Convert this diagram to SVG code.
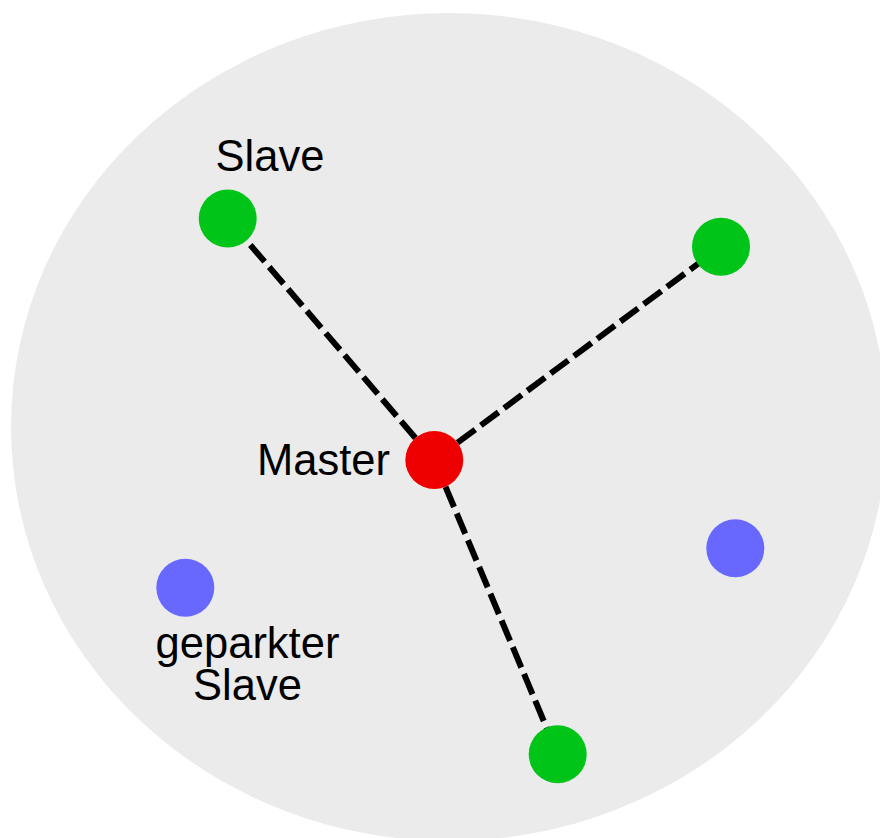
<svg xmlns="http://www.w3.org/2000/svg" width="880" height="838" viewBox="0 0 880 838">
<style>
.lbl{font-family:"Liberation Sans",Arial,Helvetica,sans-serif;font-size:43.5px;fill:#000}
.link{stroke:#000;stroke-width:6;stroke-dasharray:22 7;fill:none}
.active{fill:#00c418}
.master{fill:#ee0000}
.parked{fill:#6868ff}
</style>
<rect width="880" height="838" fill="#ffffff"/>
<ellipse id="piconet" cx="449" cy="427" rx="438" ry="414" fill="#ebebeb"/>
<g id="connectors">
<line class="link" x1="434.3" y1="460" x2="227.7" y2="218.5"/>
<line class="link" x1="434.3" y1="460" x2="721" y2="246.7"/>
<line class="link" x1="434.3" y1="460" x2="557.7" y2="754.3"/>
</g>
<g id="slave1"><circle class="active" cx="227.7" cy="218.5" r="29"/><text class="lbl" x="270" y="171" text-anchor="middle">Slave</text></g>
<g id="slave2"><circle class="active" cx="721" cy="246.7" r="29"/></g>
<g id="slave3"><circle class="active" cx="557.7" cy="754.3" r="29"/></g>
<g id="master"><circle class="master" cx="434.3" cy="460" r="29"/><text class="lbl" x="390" y="475" text-anchor="end">Master</text></g>
<g id="parked1"><circle class="parked" cx="185.3" cy="587.7" r="29"/><text class="lbl" x="247.5" y="658" text-anchor="middle">geparkter</text><text class="lbl" x="247.5" y="700" text-anchor="middle">Slave</text></g>
<g id="parked2"><circle class="parked" cx="735.3" cy="548.3" r="29"/></g>
</svg>
